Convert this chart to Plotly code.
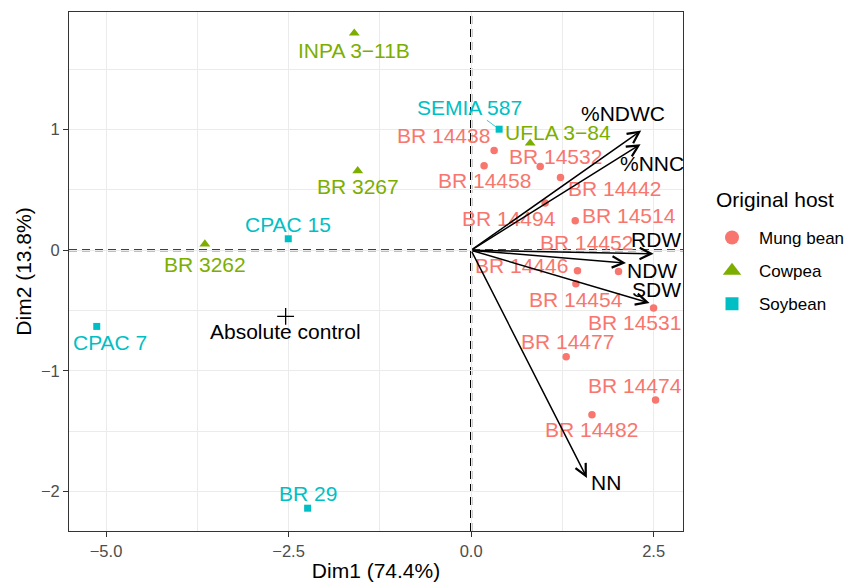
import plotly.graph_objects as go

# ---------------- data ----------------
mung_names = ["BR 14438", "BR 14458", "BR 14532", "BR 14442", "BR 14494", "BR 14514",
              "BR 14452", "BR 14446", "BR 14454", "BR 14531", "BR 14477", "BR 14474", "BR 14482"]
mung_dim1 = [0.315, 0.178, 0.946, 1.224, 1.014, 1.426, 2.019, 1.457, 1.435, 2.499, 1.302, 2.526, 1.655]
mung_dim2 = [0.826, 0.700, 0.694, 0.603, 0.391, 0.244, -0.175, -0.170, -0.277, -0.478, -0.882, -1.240, -1.362]

cowpea_names = ["INPA 3\u221211B", "BR 3267", "BR 3262", "UFLA 3\u221284"]
cowpea_dim1 = [-1.600, -1.553, -3.646, 0.809]
cowpea_dim2 = [1.798, 0.658, 0.051, 0.887]

soy_names = ["SEMIA 587", "CPAC 15", "CPAC 7", "BR 29"]
soy_dim1 = [0.384, -2.504, -5.127, -2.239]
soy_dim2 = [1.003, 0.095, -0.631, -2.137]

control_names = ["Absolute control"]
control_dim1 = [-2.540]
control_dim2 = [-0.548]

var_names = ["%NDWC", "%NNC", "RDW", "NDW", "SDW", "NN"]
var_dim1 = [2.330, 2.321, 2.499, 2.121, 2.444, 1.586]
var_dim2 = [0.992, 0.879, -0.029, -0.106, -0.437, -1.886]

# ---------------- label placement (pixel offsets, right / down) ----------------
mung_lab_dx = [-51, 0, 15, 54, -36, 54, -32, -56, 0, -19, 1, -21, 0]
mung_lab_dy = [-15, 15, -10, 11, 15, -5, -29, -5, 16, 15, -15, -14, 15]
cowpea_lab_dx = [0, 0, 0, 28]
cowpea_lab_dy = [17, 16, 20, -11]
soy_lab_dx = [-30, 0, 13, 0]
soy_lab_dy = [-22, -14, 16, -15]
control_lab_dx = [0]
control_lab_dy = [15]
var_lab_dx = [-18, 11, 2, 26, 7, 19]
var_lab_dy = [-17, 19, -14, 7, -14, 5]

# ---------------- styles ----------------
FONT = "Liberation Sans, Arial, sans-serif"
C_MUNG, C_COW, C_SOY = "#F8766D", "#7CAE00", "#00BFC4"
LABEL_SIZE = 21
W, H = 846, 583
ML, MR, MT, MB = 69, 163, 12, 52

fig = go.Figure()

groups = [
    ("Mung bean", mung_names, mung_dim1, mung_dim2, C_MUNG, "circle", 7.5, 14, mung_lab_dx, mung_lab_dy),
    ("Cowpea", cowpea_names, cowpea_dim1, cowpea_dim2, C_COW, "triangle-up", 9.5, 16, cowpea_lab_dx, cowpea_lab_dy),
    ("Soybean", soy_names, soy_dim1, soy_dim2, C_SOY, "square", 7, 13, soy_lab_dx, soy_lab_dy),
]

annotations = []

for gname, names, xs, ys, col, sym, msize, lsize, ldx, ldy in groups:
    fig.add_trace(go.Scatter(
        x=xs, y=ys, mode="markers", name=gname, text=names,
        marker=dict(color=col, symbol=sym, size=msize, line=dict(width=0)),
        showlegend=False, legendgroup=gname, hoverinfo="text+x+y"))
    # legend proxy with larger key
    fig.add_trace(go.Scatter(
        x=[None], y=[None], mode="markers", name=gname, legendgroup=gname,
        marker=dict(color=col, symbol=sym, size=lsize, line=dict(width=0)),
        showlegend=True))
    for n, x, y, dx, dy in zip(names, xs, ys, ldx, ldy):
        if n == "SEMIA 587":
            annotations.append(dict(
                x=x, y=y, xref="x", yref="y", text=n, showarrow=True,
                ax=dx, ay=dy, arrowhead=0, arrowwidth=0.8, arrowcolor=col, standoff=4,
                font=dict(family=FONT, size=LABEL_SIZE, color=col)))
        else:
            annotations.append(dict(
                x=x, y=y, xref="x", yref="y", text=n, showarrow=False,
                xshift=dx, yshift=-dy,
                font=dict(family=FONT, size=LABEL_SIZE, color=col)))

# absolute control
fig.add_trace(go.Scatter(
    x=control_dim1, y=control_dim2, mode="markers", name="Absolute control",
    marker=dict(symbol="cross-thin", size=12, color="black", line=dict(color="black", width=1.3)),
    showlegend=False))
for n, x, y, dx, dy in zip(control_names, control_dim1, control_dim2, control_lab_dx, control_lab_dy):
    annotations.append(dict(
        x=x, y=y, xref="x", yref="y", text=n, showarrow=False,
        xshift=dx, yshift=-dy, font=dict(family=FONT, size=LABEL_SIZE, color="black")))

# variable arrows
for n, x, y, dx, dy in zip(var_names, var_dim1, var_dim2, var_lab_dx, var_lab_dy):
    annotations.append(dict(
        x=x, y=y, xref="x", yref="y", ax=0, ay=0, axref="x", ayref="y",
        text="", showarrow=True, arrowhead=5, arrowsize=1.5, arrowwidth=1.5,
        arrowcolor="black", standoff=0, startstandoff=0))
    annotations.append(dict(
        x=x, y=y, xref="x", yref="y", text=n, showarrow=False,
        xshift=dx, yshift=-dy, font=dict(family=FONT, size=LABEL_SIZE, color="black")))

# legend title as its own text (paper coords relative to plot area)
pw, ph = W - ML - MR, H - MT - MB
annotations.append(dict(
    x=(714 - ML) / pw, y=(H - MB - 200) / ph, xref="paper", yref="paper", text="Original host",
    showarrow=False, xanchor="left", yanchor="middle",
    font=dict(family=FONT, size=21, color="black")))

shapes = [
    dict(type="line", xref="x", yref="paper", x0=0, x1=0, y0=0, y1=1,
         line=dict(color="black", width=2.2, dash="8px,5px"), layer="between"),
    dict(type="line", xref="paper", yref="y", x0=0, x1=1, y0=0, y1=0,
         line=dict(color="black", width=2.2, dash="8px,5px"), layer="between"),
]

axis_common = dict(
    showgrid=True, gridcolor="#EBEBEB", gridwidth=1.2,
    showline=True, mirror=True, linecolor="#333333", linewidth=1,
    ticks="outside", ticklen=5, tickwidth=1, tickcolor="#333333",
    tickfont=dict(family=FONT, size=16.5, color="#4D4D4D"),
    zeroline=False, automargin=False,
)

fig.update_layout(
    width=W, height=H, autosize=False,
    margin=dict(l=ML, r=MR, t=MT, b=MB),
    paper_bgcolor="white", plot_bgcolor="white",
    font=dict(family=FONT),
    xaxis=dict(range=[-5.507, 2.902], tickmode="linear", tick0=0, dtick=2.5, tickformat=".1f",
               minor=dict(dtick=1.25, tick0=0, showgrid=True, gridcolor="#EBEBEB", gridwidth=0.8, ticks=""),
               title=dict(text="Dim1 (74.4%)", font=dict(family=FONT, size=21, color="black"), standoff=4),
               **axis_common),
    yaxis=dict(range=[-2.326, 1.974], tickmode="linear", tick0=0, dtick=1,
               minor=dict(dtick=0.5, tick0=0, showgrid=True, gridcolor="#EBEBEB", gridwidth=0.8, ticks=""),
               title=dict(text="Dim2 (13.8%)", font=dict(family=FONT, size=21, color="black"), standoff=3),
               **axis_common),
    legend=dict(
        font=dict(family=FONT, size=17, color="black"),
        xref="container", yref="container", x=705 / W, y=1 - 220 / H,
        xanchor="left", yanchor="top", tracegroupgap=8, itemwidth=44,
        bgcolor="rgba(0,0,0,0)"),
    annotations=annotations,
    shapes=shapes,
)

fig.write_html("out.html")
